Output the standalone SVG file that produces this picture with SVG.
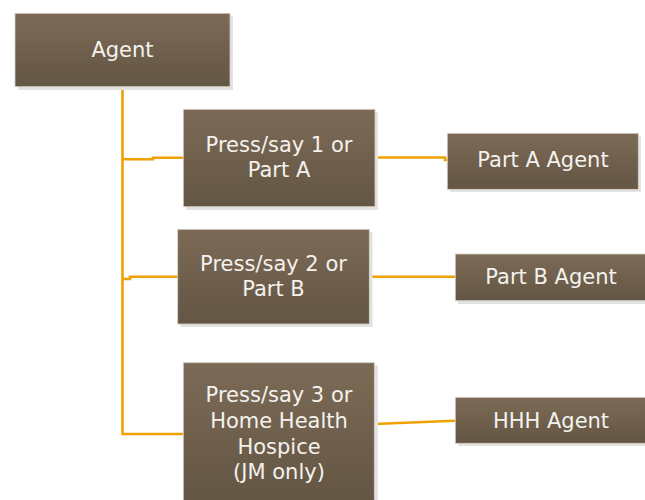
<svg xmlns="http://www.w3.org/2000/svg" width="645" height="500" viewBox="0 0 645 500">
<defs>
<linearGradient id="g" x1="0" y1="0" x2="0" y2="1">
<stop offset="0" stop-color="#7b6a56"/>
<stop offset="1" stop-color="#645644"/>
</linearGradient>
<style>
.sh{fill:#e2e2e2}
.bx{fill:url(#g);stroke:#d8d0c4;stroke-width:0.8}
.t{font-family:"DejaVu Sans",Verdana,sans-serif;font-size:21px;fill:#f4f2ee;text-anchor:middle}
.c{fill:none;stroke:#f0a000;stroke-width:2.6}
</style>
</defs>
<rect width="645" height="500" fill="#ffffff"/>
<g id="connectors">
<path class="c" d="M122.5,87 V434 H183"/>
<path class="c" d="M122.5,159.3 H153 V157.7 H183"/>
<path class="c" d="M122.5,279 H130 V276.7 H178"/>
<path class="c" d="M375,157.5 H445 V160 H447"/>
<path class="c" d="M369,276.7 H455"/>
<path class="c" d="M374,424 L455,420.7"/>
</g>
<g id="agent">
<rect class="sh" x="18" y="16" width="215" height="74"/>
<rect class="bx" x="15" y="13.3" width="215" height="73.4"/>
<text class="t" x="122.5" y="56.8">Agent</text>
</g>
<g id="press1">
<rect class="sh" x="186" y="112" width="192" height="98"/>
<rect class="bx" x="183.3" y="109.3" width="191.7" height="97.4"/>
<text class="t" x="279" y="151.7">Press/say 1 or</text>
<text class="t" x="279" y="176.7">Part A</text>
</g>
<g id="partA">
<rect class="sh" x="450" y="136" width="191" height="56"/>
<rect class="bx" x="447.3" y="133.3" width="191" height="56"/>
<text class="t" x="543" y="166.7">Part A Agent</text>
</g>
<g id="press2">
<rect class="sh" x="180.5" y="232" width="192" height="95"/>
<rect class="bx" x="177.7" y="229.3" width="191.6" height="94.7"/>
<text class="t" x="273.5" y="271">Press/say 2 or</text>
<text class="t" x="273.5" y="296">Part B</text>
</g>
<g id="partB">
<rect class="sh" x="458" y="257" width="195" height="47"/>
<rect class="bx" x="455.3" y="254" width="192" height="46.7"/>
<text class="t" x="551" y="284.3">Part B Agent</text>
</g>
<g id="press3">
<rect class="sh" x="186" y="365.5" width="192" height="140"/>
<rect class="bx" x="183.3" y="362.7" width="191" height="140"/>
<text class="t" x="279" y="402.3">Press/say 3 or</text>
<text class="t" x="279" y="428.3">Home Health</text>
<text class="t" x="279" y="453.5">Hospice</text>
<text class="t" x="279" y="478.5">(JM only)</text>
</g>
<g id="hhh">
<rect class="sh" x="458" y="400" width="195" height="46"/>
<rect class="bx" x="455.3" y="397.3" width="192" height="46"/>
<text class="t" x="551" y="427.7">HHH Agent</text>
</g>
</svg>
